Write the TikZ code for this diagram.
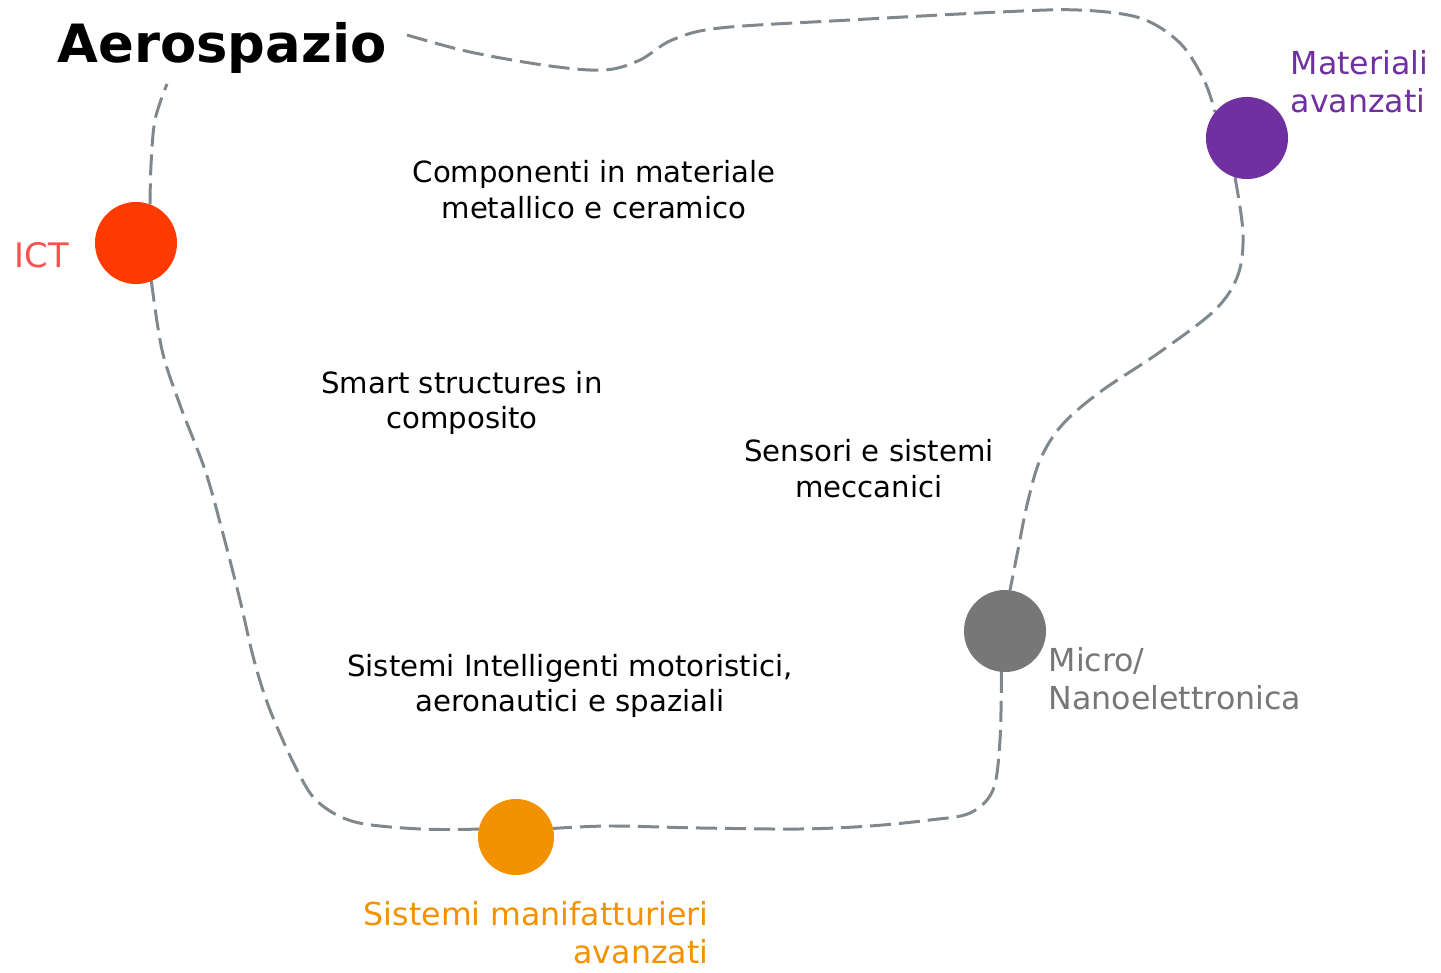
\documentclass[tikz,border=0pt]{standalone}
\usepackage{fontspec}
\setmainfont{DejaVu Sans}
\usetikzlibrary{backgrounds}
\definecolor{ictc}{HTML}{FF3A00}
\definecolor{ictl}{HTML}{FF5050}
\definecolor{matc}{HTML}{7030A0}
\definecolor{micc}{HTML}{777777}
\definecolor{sisc}{HTML}{F39200}
\definecolor{linec}{HTML}{7F888D}
\tikzset{
  dot/.style={circle, inner sep=0pt, outer sep=0pt, minimum size=0.82cm, draw=none},
  loop/.style={draw=linec, line width=0.85pt, dash pattern=on 0.21cm off 0.08cm},
  inner/.style={font=\fontsize{8.3pt}{10.2pt}\selectfont, align=center, inner sep=0pt},
  lab/.style={font=\fontsize{9pt}{10.8pt}\selectfont, inner sep=0pt},
}
\begin{document}
\begin{tikzpicture}[x=0.01cm, y=-0.01cm]
\useasboundingbox (0,0) rectangle (1441,973);
% circles
\node[dot, fill=ictc] (ict) at (136,243) {};
\node[dot, fill=matc] (mat) at (1247,138) {};
\node[dot, fill=micc] (mic) at (1005,631) {};
\node[dot, fill=sisc, minimum size=0.76cm] (sis) at (516,837) {};
\coordinate (s) at (407,35);
\coordinate (e) at (167,84);
% title
\node[anchor=base west, inner sep=0pt, font=\fontsize{15pt}{18pt}\selectfont\bfseries] (title) at (57,63) {Aerospazio};
% labels
\node[lab, anchor=base west, text=ictl, font=\fontsize{9.6pt}{11pt}\selectfont] (ictlab) at (14,268) {ICT};
\node[lab, anchor=west, align=left, text=matc] (matlab) at (1290,82) {Materiali\\avanzati};
\node[lab, anchor=west, align=left, text=micc] (miclab) at (1048,679) {Micro/\\Nanoelettronica};
\node[lab, anchor=east, align=right, text=sisc] (sislab) at (709,933) {Sistemi manifatturieri\\avanzati};
% inner texts
\node[inner] (t1) at (594,190) {Componenti in materiale\\metallico e ceramico};
\node[inner] (t2) at (462,403) {Smart structures in\\composito};
\node[inner] (t3) at (869,469) {Sensori e sistemi\\meccanici};
\node[inner] (t4) at (570,686) {Sistemi Intelligenti motoristici,\\aeronautici e spaziali};
% loop
\begin{pgfonlayer}{background}
\draw[loop] plot[smooth, tension=0.55] coordinates {(s) (470,52) (550,66) (605,70) (640,60) (672,40) (720,28) (850,20) (1000,12) (1078,10) (1140,18) (1180,43) (1204,80) (mat.141)};
\draw[loop] plot[smooth, tension=0.55] coordinates {(mat.253) (1243,233) (1238,275) (1215,310) (1160,352) (1100,392) (1062,425) (1040,460) (1027,505) (1018,550) (mic.83)};
\draw[loop] plot[smooth, tension=0.55] coordinates {(mic.265) (1000,740) (993,790) (970,813) (930,820) (870,826) (800,829) (700,828) (610,826) (sis.13)};
\draw[loop] plot[smooth, tension=0.55] coordinates {(sis.168) (420,829) (355,822) (318,802) (297,770) (270,710) (254,660) (240,600) (222,530) (205,470) (180,405) (162,350) (ict.292)};
\draw[loop] plot[smooth, tension=0.55] coordinates {(ict.70) (151,165) (155,120) (e)};
\end{pgfonlayer}
\end{tikzpicture}
\end{document}
